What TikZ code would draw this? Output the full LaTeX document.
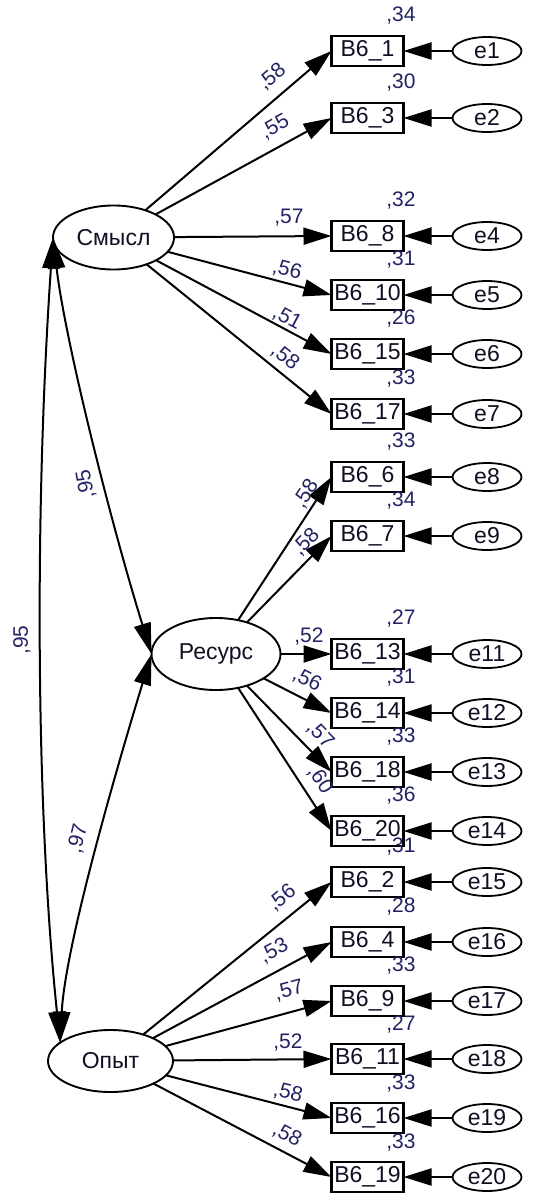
\documentclass[tikz,border=0pt]{standalone}
\usepackage{fontspec}
\setmainfont{Liberation Sans}
\usetikzlibrary{arrows.meta,shapes.geometric}
\definecolor{numcol}{RGB}{35,35,100}
\definecolor{txtcol}{RGB}{15,15,35}
\begin{document}
\begin{tikzpicture}[x=1pt,y=-1pt,
  latent/.style={ellipse,draw,line width=1.9pt,inner sep=0pt,outer sep=0pt,
    font=\fontsize{23}{25}\selectfont,text=txtcol},
  obs/.style={rectangle,draw,line width=2.6pt,minimum width=72pt,minimum height=30pt,
    inner sep=0pt,outer sep=0pt,font=\fontsize{23}{25}\selectfont,text=txtcol},
  err/.style={ellipse,draw,line width=1.8pt,minimum width=69pt,minimum height=28pt,
    inner sep=0pt,outer sep=0pt,font=\fontsize{23}{25}\selectfont,text=txtcol},
  num/.style={font=\fontsize{21}{23}\selectfont,text=numcol,inner sep=0pt},
  arr/.style={line width=2pt,-{Triangle[length=28pt,width=17pt]}},
  corr/.style={line width=2pt,
    {Triangle[length=31pt,width=17pt]}-{Triangle[length=31pt,width=17pt]}}]

\fill[white] (0,0) rectangle (533,1193);
\useasboundingbox (0,0) rectangle (533,1193);

% latent factors
\node[latent,minimum width=121pt,minimum height=64pt] (smysl) at (113.5,237.5) {Смысл};
\node[latent,minimum width=129pt,minimum height=72pt] (resurs) at (216,654) {Ресурс};
\node[latent,minimum width=125pt,minimum height=62pt] (opyt) at (110.5,1061) {Опыт};

% observed items, their error terms and squared multiple correlations
\foreach \n/\y/\e/\v in {1/51/1/34, 3/118/2/30, 8/236/4/32, 10/295/5/31,
    15/354/6/26, 17/414/7/33, 6/477/8/33, 7/536/9/34, 13/654/11/27,
    14/713/12/31, 18/772/13/33, 20/831/14/36, 2/882/15/31, 4/942/16/28,
    9/1001/17/33, 11/1059/18/27, 16/1118/19/33, 19/1177/20/33} {
  \node[obs] (b\n) at (367.5,\y) {B6\_\n};
  \node[err] (e\e) at (487,\y) {e\e};
  \node[num] (r\n) at (401,\y-35) {,\v};
  \draw[arr] (e\e) -- (b\n);
}

% factor loadings
\foreach \n in {1,3,8,10,15,17} { \draw[arr] (smysl) -- (b\n.west); }
\foreach \n in {6,7,13,14,18,20} { \draw[arr] (resurs) -- (b\n.west); }
\foreach \n in {2,4,9,11,16,19} { \draw[arr] (opyt) -- (b\n.west); }

\node[num,rotate=40]  (l1)  at (272,77)  {,58};
\node[num,rotate=29]  (l3)  at (275,127) {,55};
\node[num]            (l8)  at (289,218) {,57};
\node[num,rotate=-15] (l10) at (287,270) {,56};
\node[num,rotate=-28] (l15) at (287,318) {,51};
\node[num,rotate=-39] (l17) at (285,357) {,58};

\node[num,rotate=57]  (l6)  at (306,494) {,58};
\node[num,rotate=46]  (l7)  at (306,542) {,58};
\node[num]            (l13) at (309,637) {,52};
\node[num,rotate=-27] (l14) at (307,680) {,56};
\node[num,rotate=-46] (l18) at (320,735) {,57};
\node[num,rotate=-57] (l20) at (320,780) {,60};

\node[num,rotate=39]  (l2)  at (282,898)  {,56};
\node[num,rotate=28]  (l4)  at (274,951)  {,53};
\node[num,rotate=15]  (l9)  at (289,991)  {,57};
\node[num]            (l11) at (288,1042) {,52};
\node[num,rotate=-14] (l16) at (288,1093) {,58};
\node[num,rotate=-28] (l19) at (287,1135) {,58};

% factor correlations
\draw[corr] (smysl.west) .. controls (35,500) and (35,800) .. (opyt.160);
\draw[corr] (smysl.west) .. controls (65,340) and (110,520) .. (resurs.west);
\draw[corr] (resurs.west) .. controls (110,790) and (65,950) .. (opyt.160);

\node[num,rotate=100] (c1) at (86,484) {,95};
\node[num,rotate=90]  (c2) at (22,640) {,95};
\node[num,rotate=76]  (c3) at (78,839) {,97};
\end{tikzpicture}
\end{document}
